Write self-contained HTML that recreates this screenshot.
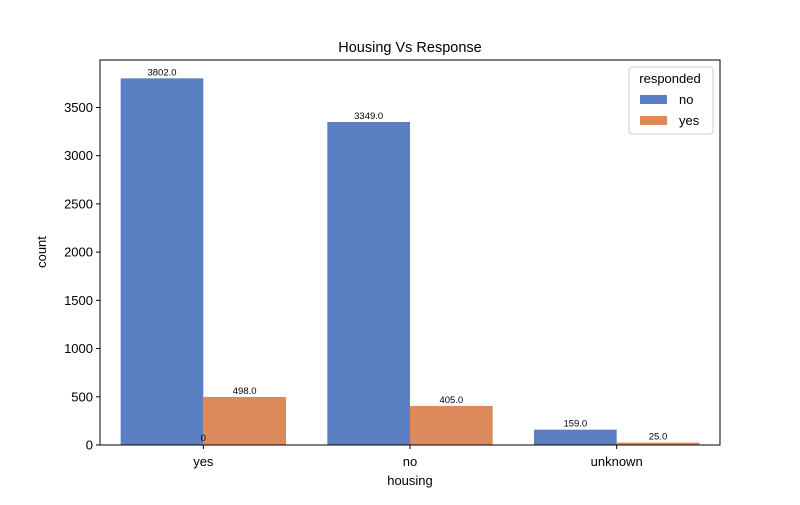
<!DOCTYPE html>
<html><head><meta charset="utf-8"><style>body{margin:0;background:#fff}svg text{font-family:"Liberation Sans",sans-serif}</style></head>
<body>
<svg id="chart" width="800" height="500" viewBox="0 0 800 500">
<text x="410" y="52" font-size="14.5" text-anchor="middle">Housing Vs Response</text>
<g id="plot"></g>
<rect x="100" y="60" width="620" height="385" fill="none" stroke="#000" stroke-width="1"/>
<text x="410" y="485" font-size="13" text-anchor="middle">housing</text>
<text transform="translate(46,252) rotate(-90)" font-size="13" text-anchor="middle">count</text>
<g>
<rect x="629" y="67" width="84" height="67" rx="3" fill="#fff" stroke="#ccc"/>
<text x="670" y="83" font-size="13" text-anchor="middle">responded</text>
<rect x="640" y="95" width="27" height="9" fill="#5a7fc3"/>
<text x="679" y="104" font-size="13">no</text>
<rect x="640" y="116" width="27" height="9" fill="#dc8a5c"/>
<text x="679" y="125" font-size="13">yes</text>
</g>
</svg>
<script>
const categories = ["yes", "no", "unknown"];
const seriesNo = [3802, 3349, 159];
const seriesYes = [498, 405, 25];
const yTicks = [0, 500, 1000, 1500, 2000, 2500, 3000, 3500];
const NS = "http://www.w3.org/2000/svg";
const g = document.getElementById("plot");
const L = 100, R = 720, T = 60, B = 445;
const yMax = Math.max(...seriesNo, ...seriesYes) * 1.05;
const y = v => B - v / yMax * (B - T);
const band = (R - L) / categories.length;
const xc = i => L + band * (i + 0.5);
const bw = band * 0.4;
function mk(tag, attrs, text) {
  const e = document.createElementNS(NS, tag);
  for (const k in attrs) e.setAttribute(k, attrs[k]);
  if (text !== undefined) e.textContent = text;
  g.appendChild(e);
  return e;
}
yTicks.forEach(t => {
  const l = mk("line", {x1: L - 4, x2: L, y1: y(t), y2: y(t), stroke: "#000"});
  
  
  const tx = mk("text", {x: L - 7, y: y(t) + 4.5, "font-size": 13, "text-anchor": "end"}, t);
  
  
});
categories.forEach((c, i) => {
  const l = mk("line", {x1: xc(i), x2: xc(i), y1: B, y2: B + 4, stroke: "#000"});
  
  
  const tx = mk("text", {x: xc(i), y: B + 21, "font-size": 13, "text-anchor": "middle"}, c);
  
  
});
function bars(vals, off, color, name) {
  vals.forEach((v, i) => {
    const x0 = xc(i) + off;
    const r = mk("rect", {x: x0, y: y(v), width: bw, height: B - y(v), fill: color});
    
    
    const t = mk("text", {x: x0 + bw / 2, y: y(v) - 3, "font-size": 9.5, "text-anchor": "middle"}, v.toFixed(1));
    
    
  });
}
bars(seriesNo, -bw, "#5a7fc3", "no");
bars(seriesYes, 0, "#dc8a5c", "yes");
const z = mk("text", {x: xc(0), y: B - 4, "font-size": 9.5, "text-anchor": "middle"}, "0");


</script>
</body></html>
